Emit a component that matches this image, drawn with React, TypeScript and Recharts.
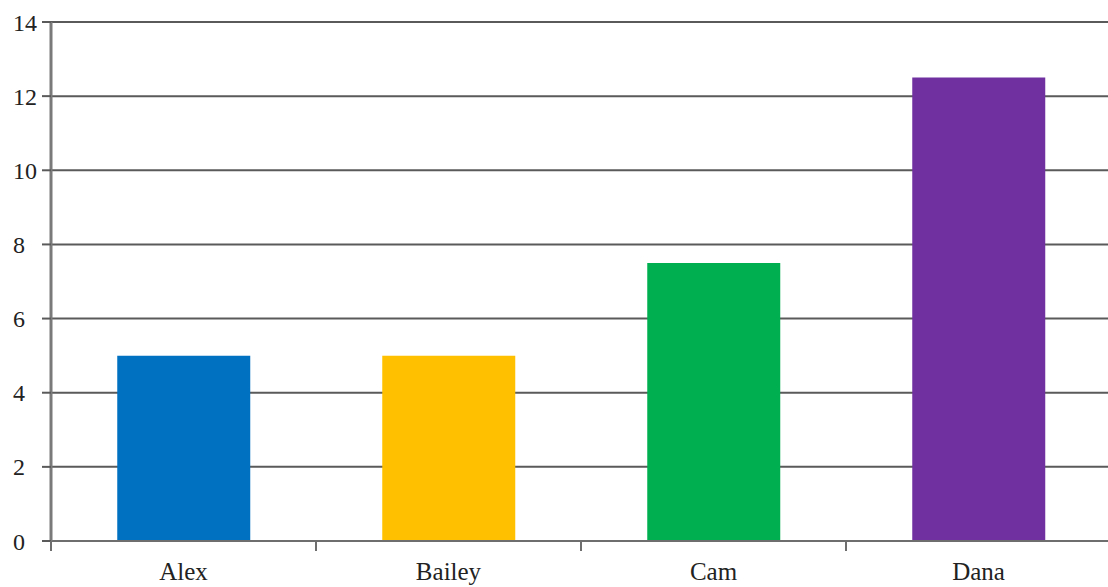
import React from "react";
import { BarChart, Bar, XAxis, YAxis, CartesianGrid, Cell } from "recharts";

const names = ["Alex", "Bailey", "Cam", "Dana"];
const values = [5, 5, 7.5, 12.5];
const colors = ["#0070C0", "#FFC000", "#00B050", "#7030A0"];
const yTicks = [0, 2, 4, 6, 8, 10, 12, 14];

const data = names.map((name, i) => ({ name, value: values[i] }));

const font = "'Liberation Serif', 'Times New Roman', serif";
const CHART_W = 1108;
const MARGIN_RIGHT = -3;
const Y_W = 51;

const XTick = (props: any) => {
  const { x, y, payload, index, width } = props;
  const plotW = typeof width === "number" && width > 0 ? width : CHART_W - Y_W - MARGIN_RIGHT;
  const half = plotW / names.length / 2;
  const axisY = y - 11;
  return (
    <g>
      <line x1={x - half} x2={x - half} y1={axisY} y2={axisY + 10} stroke="#6e6e6e" strokeWidth={2} />
      {index === names.length - 1 && (
        <line x1={x + half} x2={x + half} y1={axisY} y2={axisY + 10} stroke="#6e6e6e" strokeWidth={2} />
      )}
      <text x={x} y={y + 10} dy="0.71em" textAnchor="middle" fill="#222" fontSize={25} fontFamily={font}>
        {payload.value}
      </text>
    </g>
  );
};

const YTick = (props: any) => {
  const { x, y, payload } = props;
  return (
    <text x={x - 24} y={y} dy="0.355em" textAnchor="start" fill="#222" fontSize={24} fontFamily={font}>
      {payload.value}
    </text>
  );
};

export default function App() {
  return (
    <div style={{ position: "absolute", left: 0, top: 0, background: "#fff" }}>
      <BarChart
        width={CHART_W}
        height={587}
        data={data}
        margin={{ top: 22, right: MARGIN_RIGHT, bottom: 0, left: 0 }}
        barCategoryGap="25%"
      >
        <CartesianGrid vertical={false} stroke="#5a5a5a" strokeWidth={2} />
        <XAxis
          dataKey="name"
          axisLine={{ stroke: "#6e6e6e", strokeWidth: 2 }}
          tickLine={false}
          tickSize={0}
          tickMargin={11}
          height={46}
          interval={0}
          tick={<XTick />}
        />
        <YAxis
          domain={[0, 14]}
          ticks={yTicks}
          width={Y_W}
          tickSize={9}
          tickMargin={5}
          axisLine={{ stroke: "#7a7a7a", strokeWidth: 3 }}
          tickLine={{ stroke: "#5a5a5a", strokeWidth: 2 }}
          tick={<YTick />}
          interval={0}
        />
        <Bar dataKey="value" isAnimationActive={false}>
          {data.map((d, i) => (
            <Cell key={d.name} fill={colors[i]} />
          ))}
        </Bar>
      </BarChart>
    </div>
  );
}
